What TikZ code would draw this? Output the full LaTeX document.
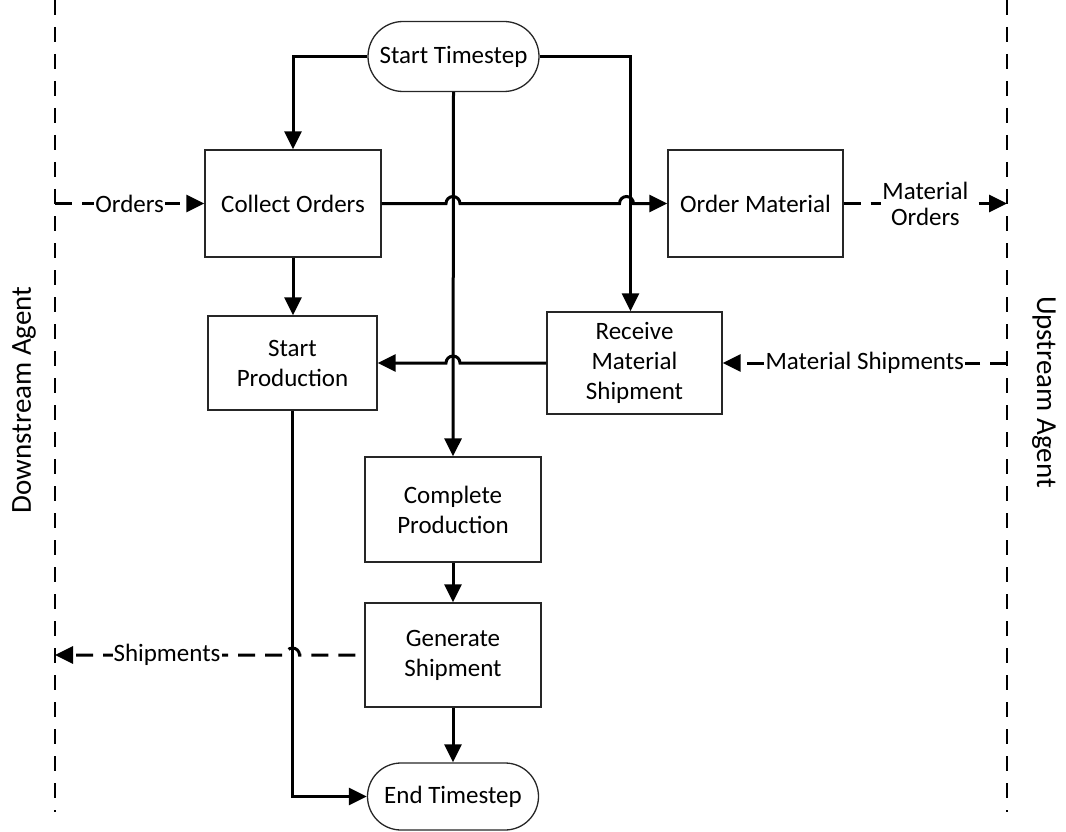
\documentclass[tikz,border=0pt]{standalone}
\usepackage{fontspec}
\setmainfont{Carlito}
\usetikzlibrary{shapes.misc,arrows.meta,calc}
\begin{document}
\begin{tikzpicture}[x=1pt,y=-1pt,
  font=\fontsize{25}{30}\selectfont,
  procbox/.style={draw=black!85,line width=1.3pt,align=center,inner sep=2pt},
  pill/.style={draw=black!85,line width=1.3pt,rounded rectangle,align=center,inner sep=2pt},
  flow/.style={line width=3pt,-{Triangle[length=18pt,width=17pt]}},
  msg/.style={line width=3pt,dash pattern=on 17pt off 10pt,-{Triangle[length=18pt,width=17pt]}},
  agentline/.style={line width=2.8pt,dash pattern=on 15pt off 12pt},
  agentlbl/.style={font=\fontsize{29}{34}\selectfont},
  lbl/.style={fill=white,inner sep=1pt,align=center}
]
\useasboundingbox (0,0) rectangle (1066,832);

% process steps
\node[pill,minimum width=175pt,minimum height=70pt] (start) at (453.5,56.5) {Start Timestep};
\node[procbox,minimum width=176pt,minimum height=107pt] (collect) at (293,203.5) {Collect Orders};
\node[procbox,minimum width=175pt,minimum height=107pt] (order) at (755.5,203.5) {Order Material};
\node[procbox,minimum width=169pt,minimum height=94pt] (startprod) at (292.5,363) {Start\\Production};
\node[procbox,minimum width=175pt,minimum height=102pt] (receive) at (634.5,363) {Receive\\Material\\Shipment};
\node[procbox,minimum width=176pt,minimum height=105pt] (complete) at (453,509.5) {Complete\\Production};
\node[procbox,minimum width=176pt,minimum height=104pt] (generate) at (453,655) {Generate\\Shipment};
\node[pill,minimum width=175pt,minimum height=67pt] (end) at (453,796.5) {End Timestep};

% agent boundaries
\coordinate (dsTop) at (55,0);
\coordinate (dsBot) at (55,812);
\coordinate (usTop) at (1007,0);
\coordinate (usBot) at (1007,812);
\draw[agentline] (dsTop) -- (dsBot);
\draw[agentline] (usTop) -- (usBot);
\node[agentlbl,rotate=90] (dslabel) at (24,400) {Downstream Agent};
\node[agentlbl,rotate=-90] (uslabel) at (1044,392) {Upstream Agent};

% control flow
\draw[flow] (start.west) -| (collect.north);
\draw[flow] (start.east) -| ($(receive.north)+(-4,0)$);
\draw[flow] (start.south) -- (complete.north);
\draw[flow] (collect.east) -- (446,203.5)
  arc[start angle=180,end angle=0,radius=7pt] -- (619.5,203.5)
  arc[start angle=180,end angle=0,radius=7pt] -- (order.west);
\draw[flow] (collect.south) -- (collect.south |- startprod.north);
\draw[flow] (receive.west) -- (460,363)
  arc[start angle=0,end angle=180,radius=7pt] -- (startprod.east);
\draw[flow] (complete.south) -- (generate.north);
\draw[flow] (generate.south) -- (end.north);
\draw[flow] (startprod.south) |- (end.west);

% messages exchanged with neighbouring agents
\coordinate (ordIn) at (55,203.5);
\coordinate (matOut) at (1007,203.5);
\coordinate (shipIn) at (1007,363);
\coordinate (shipOut) at (55,655);
\draw[msg] (ordIn) -- node[lbl] {Orders} (collect.west);
\draw[msg] (order.east) -- node[lbl] {Material\\[-4pt]Orders} (matOut);
\draw[msg] (shipIn) -- node[lbl] {Material Shipments} (receive.east);
\draw[msg,dash phase=18pt] (generate.west) -- (299.5,655)
  arc[start angle=0,end angle=180,radius=7pt] -- node[lbl,pos=0.514] {Shipments} (shipOut);
\end{tikzpicture}
\end{document}
